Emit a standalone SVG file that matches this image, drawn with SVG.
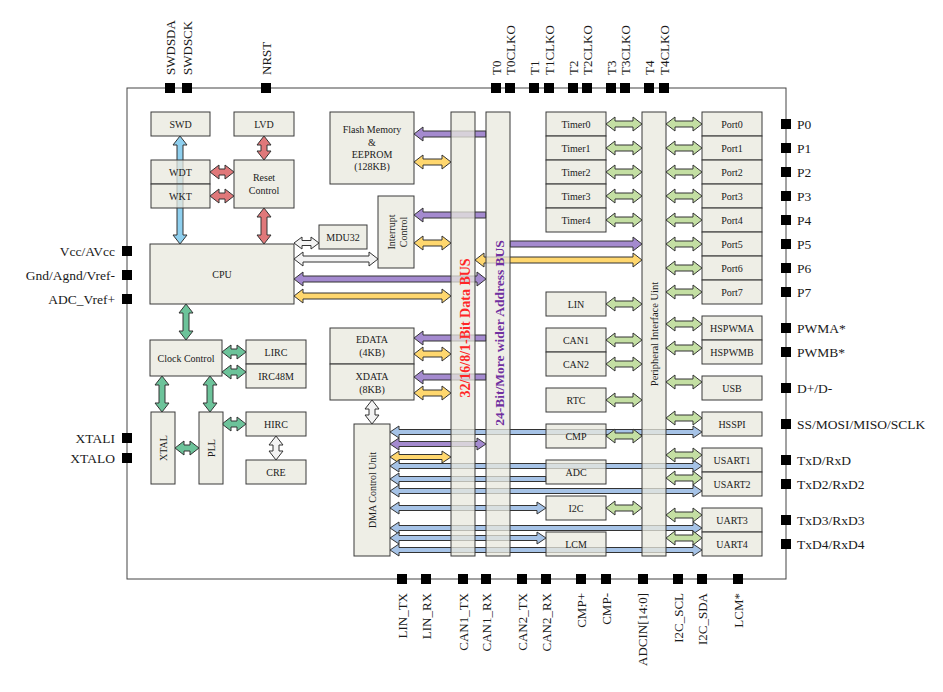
<svg xmlns="http://www.w3.org/2000/svg" xmlns:xlink="http://www.w3.org/1999/xlink" width="943" height="692" viewBox="0 0 943 692">
<style>
text{font-family:"Liberation Serif","Times New Roman",serif;fill:#1a1a1a}
.t{font-size:10px;text-anchor:middle}
.r{dominant-baseline:central}
.pl{font-size:13.5px}
.pv{font-size:13px}
.box{fill:#E8E8DE;fill-opacity:.75;stroke:#3a3a3a;stroke-width:1}
.pin{fill:#000}
.c polygon,.c use{stroke:#333;stroke-width:1;stroke-linejoin:miter}
.red{fill:#E0787A}
.sky{fill:#8ECFEE}
.mint{fill:#6CC39A}
.lg{fill:#C4DFA3}
.pu{fill:#A48ACF}
.ye{fill:#FFD76E}
.wh{fill:#F3F3F3}
.bl{fill:#A6C3E7}
</style>
<defs>
<polygon id="h36" points="0,0 9,-7 9,-3 27,-3 27,-7 36,0 27,7 27,3 9,3 9,7"/>
<polygon id="h24" points="0,0 9,-7 9,-3 15,-3 15,-7 24,0 15,7 15,3 9,3 9,7"/>
</defs>
<rect width="943" height="692" fill="#fff"/>
<rect x="127" y="88" width="659" height="491" fill="none" stroke="#444" stroke-width="1"/>

<g id="connectors" class="c">
<polygon class="sky" points="180,136 187,145 183,145 183,235 187,235 180,244 173,235 177,235 177,145 173,145"/>
<use class="red" xlink:href="#h24" transform="translate(264,136) rotate(90)"/>
<use class="red" xlink:href="#h24" transform="translate(210,172)"/>
<use class="red" xlink:href="#h24" transform="translate(210,196)"/>
<use class="red" xlink:href="#h36" transform="translate(264,208) rotate(90)"/>
<use class="mint" xlink:href="#h36" transform="translate(186,304) rotate(90)"/>
<use class="mint" xlink:href="#h24" transform="translate(222,352)"/>
<use class="mint" xlink:href="#h24" transform="translate(222,372)"/>
<use class="mint" xlink:href="#h36" transform="translate(162,376) rotate(90)"/>
<use class="mint" xlink:href="#h36" transform="translate(210,376) rotate(90)"/>
<use class="mint" xlink:href="#h24" transform="translate(175,448)"/>
<use class="mint" xlink:href="#h24" transform="translate(222,424)"/>
<use class="wh" xlink:href="#h24" transform="translate(276,436) rotate(90)"/>
<use class="wh" xlink:href="#h24" transform="translate(372,400) rotate(90)"/>
<polygon class="wh" points="294,243 302,237 302,240.5 311,240.5 311,237 319,243 311,249 311,245.5 302,245.5 302,249"/>
<polygon class="wh" points="294,259 303,252 303,256 369,256 369,252 378,259 369,266 369,262 303,262 303,266"/>
<polygon class="pu" points="294,279 303,272 303,276 477,276 477,272 486,279 477,286 477,282 303,282 303,286"/>
<polygon class="ye" points="294,296 303,289 303,293 442,293 442,289 451,296 442,303 442,299 303,299 303,303"/>
<polygon class="pu" points="414,134 423,127 423,131 486,131 486,137 423,137 423,141"/>
<polygon class="ye" points="414,162 423,155 423,159 442,159 442,155 451,162 442,169 442,165 423,165 423,169"/>
<polygon class="pu" points="414,215 423,208 423,212 486,212 486,218 423,218 423,222"/>
<polygon class="ye" points="414,243 423,236 423,240 442,240 442,236 451,243 442,250 442,246 423,246 423,250"/>
<polygon class="pu" points="642,244 633,237 633,241 510,241 510,247 633,247 633,251"/>
<polygon class="ye" points="475,260 484,253 484,257 633,257 633,253 642,260 633,267 633,263 484,263 484,267"/>
<polygon class="pu" points="414,338 423,331 423,335 486,335 486,341 423,341 423,345"/>
<polygon class="ye" points="414,354 423,347 423,351 442,351 442,347 451,354 442,361 442,357 423,357 423,361"/>
<polygon class="pu" points="414,377 423,370 423,374 486,374 486,380 423,380 423,384"/>
<polygon class="ye" points="414,393 423,386 423,390 442,390 442,386 451,393 442,400 442,396 423,396 423,400"/>
<polygon class="bl" points="390,432 399,426 399,429.5 693,429.5 693,426 702,432 693,438 693,434.5 399,434.5 399,438"/>
<polygon class="pu" points="390,444 399,438 399,441.5 477,441.5 477,438 486,444 477,450 477,446.5 399,446.5 399,450"/>
<polygon class="ye" points="390,457 399,451 399,454.5 442,454.5 442,451 451,457 442,463 442,459.5 399,459.5 399,463"/>
<polygon class="bl" points="390,466 399,460 399,463.5 693,463.5 693,460 702,466 693,472 693,468.5 399,468.5 399,472"/>
<polygon class="bl" points="390,479 399,473 399,476.5 546,476.5 546,481.5 399,481.5 399,485"/>
<polygon class="bl" points="390,491 399,485 399,488.5 693,488.5 693,485 702,491 693,497 693,493.5 399,493.5 399,497"/>
<polygon class="bl" points="390,508 399,502 399,505.5 537,505.5 537,502 546,508 537,514 537,510.5 399,510.5 399,514"/>
<polygon class="bl" points="390,528 399,522 399,525.5 693,525.5 693,522 702,528 693,534 693,530.5 399,530.5 399,534"/>
<polygon class="bl" points="390,538 399,532 399,535.5 537,535.5 537,532 546,538 537,544 537,540.5 399,540.5 399,544"/>
<polygon class="bl" points="390,550 399,544 399,547.5 693,547.5 693,544 702,550 693,556 693,552.5 399,552.5 399,556"/>
<use class="lg" xlink:href="#h36" transform="translate(606,124)"/>
<use class="lg" xlink:href="#h36" transform="translate(606,148)"/>
<use class="lg" xlink:href="#h36" transform="translate(606,172)"/>
<use class="lg" xlink:href="#h36" transform="translate(606,196)"/>
<use class="lg" xlink:href="#h36" transform="translate(606,220)"/>
<use class="lg" xlink:href="#h36" transform="translate(606,304)"/>
<use class="lg" xlink:href="#h36" transform="translate(606,340)"/>
<use class="lg" xlink:href="#h36" transform="translate(606,364)"/>
<use class="lg" xlink:href="#h36" transform="translate(606,400)"/>
<use class="lg" xlink:href="#h36" transform="translate(606,436)"/>
<use class="lg" xlink:href="#h36" transform="translate(606,508)"/>
<use class="lg" xlink:href="#h36" transform="translate(666,124)"/>
<use class="lg" xlink:href="#h36" transform="translate(666,148)"/>
<use class="lg" xlink:href="#h36" transform="translate(666,172)"/>
<use class="lg" xlink:href="#h36" transform="translate(666,196)"/>
<use class="lg" xlink:href="#h36" transform="translate(666,220)"/>
<use class="lg" xlink:href="#h36" transform="translate(666,244)"/>
<use class="lg" xlink:href="#h36" transform="translate(666,268)"/>
<use class="lg" xlink:href="#h36" transform="translate(666,292)"/>
<use class="lg" xlink:href="#h36" transform="translate(666,324)"/>
<use class="lg" xlink:href="#h36" transform="translate(666,348)"/>
<use class="lg" xlink:href="#h36" transform="translate(666,382)"/>
<use class="lg" xlink:href="#h36" transform="translate(666,418)"/>
<use class="lg" xlink:href="#h36" transform="translate(666,455)"/>
<use class="lg" xlink:href="#h36" transform="translate(666,478)"/>
<use class="lg" xlink:href="#h36" transform="translate(666,515)"/>
<use class="lg" xlink:href="#h36" transform="translate(666,538)"/>
</g>

<g id="n-swd"><rect class="box" x="151" y="112" width="59" height="24"/><text class="t" x="180.5" y="127.5">SWD</text></g>
<g id="n-lvd"><rect class="box" x="234" y="112" width="60" height="24"/><text class="t" x="264" y="127.5">LVD</text></g>
<g id="n-wdt"><rect class="box" x="151" y="160" width="59" height="24"/><text class="t" x="180.5" y="175.5">WDT</text></g>
<g id="n-wkt"><rect class="box" x="151" y="184" width="59" height="24"/><text class="t" x="180.5" y="199.5">WKT</text></g>
<g id="n-reset"><rect class="box" x="234" y="160" width="60" height="48"/><text class="t" x="264" y="180.5">Reset</text><text class="t" x="264" y="194">Control</text></g>
<g id="n-flash"><rect class="box" x="330" y="112" width="84" height="72"/><text class="t" x="372" y="133">Flash Memory</text><text class="t" x="372" y="145.5">&amp;</text><text class="t" x="372" y="158">EEPROM</text><text class="t" x="372" y="170">(128KB)</text></g>
<g id="n-int"><rect class="box" x="378" y="196" width="36" height="72"/><text class="t r" transform="translate(391,232) rotate(-90)">Interrupt</text><text class="t r" transform="translate(403,232) rotate(-90)">Control</text></g>
<g id="n-mdu"><rect class="box" x="319" y="225" width="48" height="24"/><text class="t" x="343" y="240.5">MDU32</text></g>
<g id="n-cpu"><rect class="box" x="150" y="244" width="144" height="60"/><text class="t" x="222" y="277.5">CPU</text></g>
<g id="n-clk"><rect class="box" x="150" y="340" width="72" height="36"/><text class="t" x="186" y="361.5">Clock Control</text></g>
<g id="n-lirc"><rect class="box" x="246" y="340" width="60" height="24"/><text class="t" x="276" y="355.5">LIRC</text></g>
<g id="n-irc48"><rect class="box" x="246" y="364" width="60" height="24"/><text class="t" x="276" y="379.5">IRC48M</text></g>
<g id="n-xtal"><rect class="box" x="151" y="412" width="24" height="72"/><text class="t r" transform="translate(163,448) rotate(-90)">XTAL</text></g>
<g id="n-pll"><rect class="box" x="199" y="412" width="24" height="72"/><text class="t r" transform="translate(211,448) rotate(-90)">PLL</text></g>
<g id="n-hirc"><rect class="box" x="246" y="412" width="60" height="24"/><text class="t" x="276" y="427.5">HIRC</text></g>
<g id="n-cre"><rect class="box" x="246" y="460" width="60" height="24"/><text class="t" x="276" y="475.5">CRE</text></g>
<g id="n-edata"><rect class="box" x="330" y="328" width="84" height="36"/><text class="t" x="372" y="343">EDATA</text><text class="t" x="372" y="356">(4KB)</text></g>
<g id="n-xdata"><rect class="box" x="330" y="364" width="84" height="36"/><text class="t" x="372" y="380">XDATA</text><text class="t" x="372" y="392.5">(8KB)</text></g>
<g id="n-dma"><rect class="box" x="354" y="424" width="36" height="132"/><text class="t r" transform="translate(372,490) rotate(-90)">DMA Control Unit</text></g>
<g id="n-databus"><rect class="box" x="451" y="112" width="24" height="444"/><text class="r" transform="translate(465,328) rotate(-90)" style="font-size:14px;font-weight:bold;text-anchor:middle;fill:#FF2626">32/16/8/1-Bit Data BUS</text></g>
<g id="n-addrbus"><rect class="box" x="486" y="112" width="24" height="444"/><text class="r" transform="translate(499,333) rotate(-90)" style="font-size:13.5px;font-weight:bold;text-anchor:middle;fill:#7030A0">24-Bit/More wider Address BUS</text></g>
<g id="n-timer0"><rect class="box" x="546" y="112" width="60" height="24"/><text class="t" x="576" y="127.5">Timer0</text></g>
<g id="n-timer1"><rect class="box" x="546" y="136" width="60" height="24"/><text class="t" x="576" y="151.5">Timer1</text></g>
<g id="n-timer2"><rect class="box" x="546" y="160" width="60" height="24"/><text class="t" x="576" y="175.5">Timer2</text></g>
<g id="n-timer3"><rect class="box" x="546" y="184" width="60" height="24"/><text class="t" x="576" y="199.5">Timer3</text></g>
<g id="n-timer4"><rect class="box" x="546" y="208" width="60" height="24"/><text class="t" x="576" y="223.5">Timer4</text></g>
<g id="n-lin"><rect class="box" x="546" y="292" width="60" height="24"/><text class="t" x="576" y="307.5">LIN</text></g>
<g id="n-can1"><rect class="box" x="546" y="328" width="60" height="24"/><text class="t" x="576" y="343.5">CAN1</text></g>
<g id="n-can2"><rect class="box" x="546" y="352" width="60" height="24"/><text class="t" x="576" y="367.5">CAN2</text></g>
<g id="n-rtc"><rect class="box" x="546" y="388" width="60" height="24"/><text class="t" x="576" y="403.5">RTC</text></g>
<g id="n-cmp"><rect class="box" x="546" y="424" width="60" height="24"/><text class="t" x="576" y="439.5">CMP</text></g>
<g id="n-adc"><rect class="box" x="546" y="460" width="60" height="24"/><text class="t" x="576" y="475.5">ADC</text></g>
<g id="n-i2c"><rect class="box" x="546" y="496" width="60" height="24"/><text class="t" x="576" y="511.5">I2C</text></g>
<g id="n-lcm"><rect class="box" x="546" y="532" width="60" height="24"/><text class="t" x="576" y="547.5">LCM</text></g>
<g id="n-piu"><rect class="box" x="642" y="112" width="24" height="444"/><text class="r" transform="translate(654,334) rotate(-90)" style="font-size:10.5px;text-anchor:middle">Peripheral Interface Uint</text></g>
<g id="n-port0"><rect class="box" x="702" y="112" width="60" height="24"/><text class="t" x="732" y="127.5">Port0</text></g>
<g id="n-port1"><rect class="box" x="702" y="136" width="60" height="24"/><text class="t" x="732" y="151.5">Port1</text></g>
<g id="n-port2"><rect class="box" x="702" y="160" width="60" height="24"/><text class="t" x="732" y="175.5">Port2</text></g>
<g id="n-port3"><rect class="box" x="702" y="184" width="60" height="24"/><text class="t" x="732" y="199.5">Port3</text></g>
<g id="n-port4"><rect class="box" x="702" y="208" width="60" height="24"/><text class="t" x="732" y="223.5">Port4</text></g>
<g id="n-port5"><rect class="box" x="702" y="232" width="60" height="24"/><text class="t" x="732" y="247.5">Port5</text></g>
<g id="n-port6"><rect class="box" x="702" y="256" width="60" height="24"/><text class="t" x="732" y="271.5">Port6</text></g>
<g id="n-port7"><rect class="box" x="702" y="280" width="60" height="24"/><text class="t" x="732" y="295.5">Port7</text></g>
<g id="n-hspwma"><rect class="box" x="702" y="316" width="60" height="24"/><text class="t" x="732" y="331.5">HSPWMA</text></g>
<g id="n-hspwmb"><rect class="box" x="702" y="340" width="60" height="24"/><text class="t" x="732" y="355.5">HSPWMB</text></g>
<g id="n-usb"><rect class="box" x="702" y="376" width="60" height="24"/><text class="t" x="732" y="391.5">USB</text></g>
<g id="n-hsspi"><rect class="box" x="702" y="412" width="60" height="24"/><text class="t" x="732" y="427.5">HSSPI</text></g>
<g id="n-usart1"><rect class="box" x="702" y="448" width="60" height="24"/><text class="t" x="732" y="463.5">USART1</text></g>
<g id="n-usart2"><rect class="box" x="702" y="472" width="60" height="24"/><text class="t" x="732" y="487.5">USART2</text></g>
<g id="n-uart3"><rect class="box" x="702" y="508" width="60" height="24"/><text class="t" x="732" y="523.5">UART3</text></g>
<g id="n-uart4"><rect class="box" x="702" y="532" width="60" height="24"/><text class="t" x="732" y="547.5">UART4</text></g>

<g id="pins">
<rect class="pin" x="165" y="83" width="10" height="10"/><rect class="pin" x="182" y="83" width="10" height="10"/><rect class="pin" x="261" y="83" width="10" height="10"/>
<rect class="pin" x="491" y="83" width="10" height="10"/><rect class="pin" x="505" y="83" width="10" height="10"/>
<rect class="pin" x="529" y="83" width="10" height="10"/><rect class="pin" x="544" y="83" width="10" height="10"/>
<rect class="pin" x="568" y="83" width="10" height="10"/><rect class="pin" x="582" y="83" width="10" height="10"/>
<rect class="pin" x="606" y="83" width="10" height="10"/><rect class="pin" x="620" y="83" width="10" height="10"/>
<rect class="pin" x="644" y="83" width="10" height="10"/><rect class="pin" x="659" y="83" width="10" height="10"/>
<rect class="pin" x="122" y="246" width="10" height="10"/><rect class="pin" x="122" y="270" width="10" height="10"/><rect class="pin" x="122" y="294" width="10" height="10"/>
<rect class="pin" x="122" y="433" width="10" height="10"/><rect class="pin" x="122" y="453" width="10" height="10"/>
<rect class="pin" x="781" y="119" width="10" height="10"/><rect class="pin" x="781" y="143" width="10" height="10"/><rect class="pin" x="781" y="167" width="10" height="10"/><rect class="pin" x="781" y="191" width="10" height="10"/>
<rect class="pin" x="781" y="215" width="10" height="10"/><rect class="pin" x="781" y="239" width="10" height="10"/><rect class="pin" x="781" y="263" width="10" height="10"/><rect class="pin" x="781" y="287" width="10" height="10"/>
<rect class="pin" x="781" y="323" width="10" height="10"/><rect class="pin" x="781" y="347" width="10" height="10"/><rect class="pin" x="781" y="383" width="10" height="10"/><rect class="pin" x="781" y="419" width="10" height="10"/>
<rect class="pin" x="781" y="455" width="10" height="10"/><rect class="pin" x="781" y="479" width="10" height="10"/><rect class="pin" x="781" y="515" width="10" height="10"/><rect class="pin" x="781" y="539" width="10" height="10"/>
<rect class="pin" x="397" y="574" width="10" height="10"/><rect class="pin" x="421" y="574" width="10" height="10"/><rect class="pin" x="458" y="574" width="10" height="10"/><rect class="pin" x="481" y="574" width="10" height="10"/>
<rect class="pin" x="517" y="574" width="10" height="10"/><rect class="pin" x="541" y="574" width="10" height="10"/><rect class="pin" x="576" y="574" width="10" height="10"/><rect class="pin" x="601" y="574" width="10" height="10"/>
<rect class="pin" x="638" y="574" width="10" height="10"/><rect class="pin" x="673" y="574" width="10" height="10"/><rect class="pin" x="697" y="574" width="10" height="10"/><rect class="pin" x="733" y="574" width="10" height="10"/>
</g>

<g id="pin-labels">
<text class="pv r" transform="translate(170,75) rotate(-90)">SWDSDA</text>
<text class="pv r" transform="translate(187,75) rotate(-90)">SWDSCK</text>
<text class="pv r" transform="translate(266,75) rotate(-90)">NRST</text>
<text class="pv r" transform="translate(496,75) rotate(-90)">T0</text>
<text class="pv r" transform="translate(510,75) rotate(-90)">T0CLKO</text>
<text class="pv r" transform="translate(534,75) rotate(-90)">T1</text>
<text class="pv r" transform="translate(549,75) rotate(-90)">T1CLKO</text>
<text class="pv r" transform="translate(573,75) rotate(-90)">T2</text>
<text class="pv r" transform="translate(587,75) rotate(-90)">T2CLKO</text>
<text class="pv r" transform="translate(611,75) rotate(-90)">T3</text>
<text class="pv r" transform="translate(625,75) rotate(-90)">T3CLKO</text>
<text class="pv r" transform="translate(649,75) rotate(-90)">T4</text>
<text class="pv r" transform="translate(664,75) rotate(-90)">T4CLKO</text>
<g style="text-anchor:end">
<text class="pl" x="115" y="255.5">Vcc/AVcc</text>
<text class="pl" x="115" y="279.5">Gnd/Agnd/Vref-</text>
<text class="pl" x="115" y="303.5">ADC_Vref+</text>
<text class="pl" x="115" y="442.5">XTALI</text>
<text class="pl" x="115" y="462.5">XTALO</text>
<text class="pv r" transform="translate(402,593) rotate(-90)">LIN_TX</text>
<text class="pv r" transform="translate(426,593) rotate(-90)">LIN_RX</text>
<text class="pv r" transform="translate(463,593) rotate(-90)">CAN1_TX</text>
<text class="pv r" transform="translate(486,593) rotate(-90)">CAN1_RX</text>
<text class="pv r" transform="translate(522,593) rotate(-90)">CAN2_TX</text>
<text class="pv r" transform="translate(546,593) rotate(-90)">CAN2_RX</text>
<text class="pv r" transform="translate(581,593) rotate(-90)">CMP+</text>
<text class="pv r" transform="translate(606,593) rotate(-90)">CMP-</text>
<text class="pv r" transform="translate(642,593) rotate(-90)">ADCIN[14:0]</text>
<text class="pv r" transform="translate(678,593) rotate(-90)">I2C_SCL</text>
<text class="pv r" transform="translate(702,593) rotate(-90)">I2C_SDA</text>
<text class="pv r" transform="translate(738,593) rotate(-90)">LCM*</text>
</g>
<text class="pl" x="797" y="128.5">P0</text>
<text class="pl" x="797" y="152.5">P1</text>
<text class="pl" x="797" y="176.5">P2</text>
<text class="pl" x="797" y="200.5">P3</text>
<text class="pl" x="797" y="224.5">P4</text>
<text class="pl" x="797" y="248.5">P5</text>
<text class="pl" x="797" y="272.5">P6</text>
<text class="pl" x="797" y="296.5">P7</text>
<text class="pl" x="797" y="332.5">PWMA*</text>
<text class="pl" x="797" y="356.5">PWMB*</text>
<text class="pl" x="797" y="392.5">D+/D-</text>
<text class="pl" x="797" y="428.5">SS/MOSI/MISO/SCLK</text>
<text class="pl" x="797" y="464.5">TxD/RxD</text>
<text class="pl" x="797" y="488.5">TxD2/RxD2</text>
<text class="pl" x="797" y="524.5">TxD3/RxD3</text>
<text class="pl" x="797" y="548.5">TxD4/RxD4</text>
</g>
</svg>
